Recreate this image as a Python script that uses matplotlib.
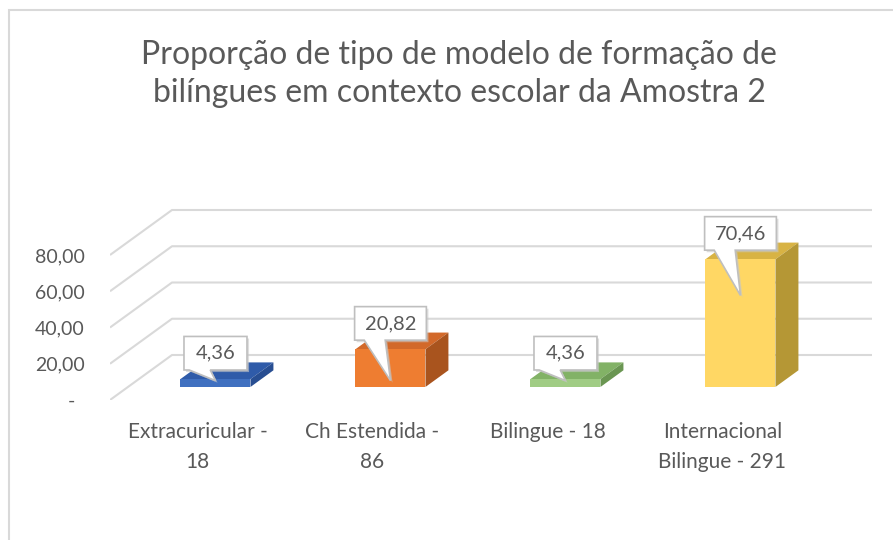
import matplotlib
matplotlib.use('Agg')
import matplotlib.pyplot as plt
from matplotlib.patches import Polygon, Rectangle
import matplotlib.patheffects as pe

# data
categories = ['Extracuricular -\n18', 'Ch Estendida -\n86', 'Bilingue - 18', 'Internacional\nBilingue - 291']
values = [4.36, 20.82, 4.36, 70.46]
value_labels = ['4,36', '20,82', '4,36', '70,46']
yticks = [0, 20, 40, 60, 80]
ytick_labels = ['-  ', '20,00', '40,00', '60,00', '80,00']
title = 'Proporção de tipo de modelo de formação de\nbilíngues em contexto escolar da Amostra 2'

front_colors = ['#4070C0', '#EE7D31', '#A0CC84', '#FFD764']
top_colors = ['#2F5BA9', '#D2692A', '#82B266', '#D8B344']
side_colors = ['#284E92', '#A9541E', '#6A9652', '#B59735']

plt.rcParams['font.family'] = ['Lato', 'DejaVu Sans']
txt = '#595959'
grid = '#D9D9D9'

W, H = 893, 540
fig = plt.figure(figsize=(W / 100, H / 100), dpi=100)

# pixel scale of the front plane
px_cat = 175.0
px_val = 1.8125
xmin, xmax = -0.5, 3.95
ymin, ymax = 0, 110
left_px, floor_px = 110, 400
ax = fig.add_axes([left_px / W, (H - floor_px) / H,
                   (xmax - xmin) * px_cat / W, (ymax - ymin) * px_val / H])
ax.set_xlim(xmin, xmax)
ax.set_ylim(ymin, ymax)
for s in ax.spines.values():
    s.set_visible(False)

# depth of the 3d box in data units
dxd = 62 / px_cat
dyd = 45 / px_val
d0, d1 = 0.29, 0.66
bw = 0.4

# walls / gridlines
for v in yticks:
    ax.plot([-0.5, -0.5 + dxd, len(values) - 0.5 + dxd], [v, v + dyd, v + dyd],
            color=grid, lw=1.5, zorder=1, solid_capstyle='butt')

# bars
xs = list(range(len(values)))
fx = [x + d0 * dxd for x in xs]
base = d0 * dyd
ax.bar(fx, values, width=bw, bottom=base, color=front_colors, zorder=3, linewidth=0)
ddx = (d1 - d0) * dxd
ddy = (d1 - d0) * dyd
for x, v, tc, sc in zip(fx, values, top_colors, side_colors):
    l, r = x - bw / 2, x + bw / 2
    t = base + v
    ax.add_patch(Polygon([(l, t), (r, t), (r + ddx, t + ddy), (l + ddx, t + ddy)],
                         closed=True, fc=tc, ec='none', zorder=2.9))
    ax.add_patch(Polygon([(r, base), (r + ddx, base + ddy), (r + ddx, t + ddy), (r, t)],
                         closed=True, fc=sc, ec='none', zorder=2.9))

# callouts
for x, v, lab in zip(fx, values, value_labels):
    t = base + v
    w = 0.36 if len(lab) < 5 else 0.41
    h = 18.5
    b = t + 5
    tip_y = max(t - 20, base + 3.5)
    pts = [(x - w / 2, b), (x - 0.15, b), (x, tip_y), (x - 0.03, b),
           (x + w / 2, b), (x + w / 2, b + h), (x - w / 2, b + h)]
    ax.add_patch(Polygon(pts, closed=True, fc='white', ec='#BFBFBF', lw=1.2, zorder=5,
                         path_effects=[pe.SimplePatchShadow(offset=(1.5, -1.5), shadow_rgbFace='#C8C8C8', alpha=0.6),
                                       pe.Normal()]))
    ax.text(x, b + h / 2, lab, ha='center', va='center', fontsize=14.5, color=txt, zorder=6)

# axes ticks
ax.set_yticks(yticks)
ax.set_yticklabels(ytick_labels)
ax.set_xticks(xs)
ax.set_xticklabels(categories, linespacing=1.6)
ax.tick_params(axis='y', length=0, pad=18, labelsize=14, labelcolor=txt)
ax.tick_params(axis='x', length=0, pad=16, labelsize=15, labelcolor=txt)
for lbl in ax.get_xticklabels():
    lbl.set_ha('center')
    lbl.set_multialignment('center')

fig.text(459 / W, 1 - 74 / H, title, ha='center', va='center', fontsize=23,
         color=txt, linespacing=1.3)

# chart frame
fig.add_artist(Rectangle((9 / W, -0.1), 1.2, 1.1 - 10 / H, transform=fig.transFigure,
                         fill=False, ec='#D9D9D9', lw=1.5))

fig.savefig('out.png', dpi=100, facecolor='white')
